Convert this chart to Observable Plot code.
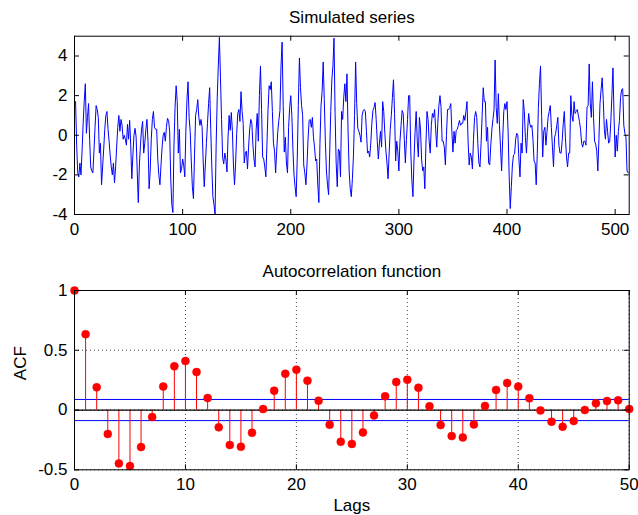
<!DOCTYPE html>
<html><head><meta charset="utf-8">
<script src="https://cdn.jsdelivr.net/npm/d3@7"></script>
<script src="https://cdn.jsdelivr.net/npm/@observablehq/plot@0.6"></script>
<style>
html,body{margin:0;padding:0;background:#fff;}
#chart{width:638px;height:515px;overflow:hidden;background:#fff;}
#chart svg{display:block;}
</style></head><body><div id="chart"></div>
<script>
// Simulated series (samples 1..512)
const series = [
1.7,-0.5,-1.9,-2.1,-1.4,-2.0,-0.8,0.6,1.7,2.6,
0.1,0.9,1.6,-0.2,-1.6,-1.8,-1.9,-0.8,0.4,1.5,
1.3,0.9,-0.9,-0.4,-2.5,-1.6,-0.7,0.3,1.0,1.2,
0.3,-0.3,-1.0,-1.6,-2.0,-1.4,-2.4,-1.6,-0.6,0.4,
1.0,0.2,0.8,0.5,-0.2,0.0,-0.2,-0.5,0.55,-0.2,
0.75,-0.5,-2.2,-1.0,0.0,0.35,-0.1,-1.8,-3.4,-1.5,
-0.5,0.3,0.7,-0.9,-0.4,0.3,0.8,-0.3,-2.7,-1.8,
-0.2,0.8,1.2,0.4,0.3,0.3,-1.2,-2.0,-2.5,-1.5,
-0.6,0.0,0.15,-0.3,0.4,0.85,0.75,0.2,-2.2,-3.5,
-3.9,-0.5,1.4,2.5,1.7,-0.9,0.3,-1.9,-1.7,-1.2,
-1.5,-2.1,0.2,1.8,2.7,0.9,0.2,-1.3,-2.6,-3.2,
-1.0,1.0,1.3,1.8,0.9,0.5,0.8,0.4,-1.3,-2.6,
-1.5,-0.4,0.6,1.6,2.4,0.3,-1.6,-3.1,-3.5,-3.98,
-0.5,1.9,3.5,4.95,2.9,0.8,-1.1,-1.45,-0.9,-1.2,
-1.85,-0.1,1.0,0.25,1.15,0.25,-1.5,-2.5,-1.4,0.1,
1.1,1.3,0.7,2.2,1.2,0.6,-1.4,-0.9,-0.8,-1.7,
-0.6,0.3,0.8,0.6,-0.5,-1.2,-1.6,0.3,1.1,-0.3,
2.0,3.5,1.3,-1.1,-1.2,-1.6,-2.1,-0.4,1.3,2.5,
2.3,2.7,1.2,-0.4,-0.8,-1.9,-0.8,0.2,0.75,1.25,
3.5,4.7,1.5,-0.85,-0.1,-1.4,-1.9,0.4,1.4,2.0,
1.0,-0.7,-2.0,-2.6,-3.1,-1.2,1.5,3.9,2.4,1.5,
1.0,-1.5,-1.9,-2.5,-1.5,-0.2,0.75,0.8,0.4,0.9,
-0.1,-0.6,-1.3,-1.2,-2.5,-3.4,-0.4,1.5,2.2,3.7,
1.8,-0.3,-1.8,-2.5,-3.0,-0.9,1.2,2.8,3.5,4.9,
1.1,-1.4,-2.6,-0.7,-0.8,-2.1,1.2,0.8,1.9,2.6,
1.7,3.1,0.2,-1.8,-2.7,-3.1,-2.2,-1.0,1.0,3.7,
1.6,0.35,0.2,0.0,-0.35,1.0,1.25,1.3,1.2,0.2,
-0.9,-0.8,-1.1,-0.4,0.6,1.25,1.4,1.65,0.8,-0.3,
-1.2,-0.4,0.2,-0.6,1.7,1.2,0.1,-0.8,-1.4,-2.2,
-0.9,0.3,1.0,1.9,2.8,1.1,-1.3,-0.3,-0.8,-1.8,
-0.3,0.5,1.25,1.1,-0.2,-1.4,-0.2,0.8,2.0,2.0,
-0.8,-2.3,-3.1,-1.2,0.2,1.2,-0.3,-1.1,0.9,0.3,
-1.2,-1.8,-1.6,-2.7,-0.5,1.2,0.8,-0.3,-0.9,0.5,
1.1,0.9,1.3,0.3,-0.6,0.6,1.5,2.0,1.4,-0.3,
-0.3,-0.6,-1.5,0.0,1.3,1.3,1.4,1.6,0.2,-0.85,
0.2,-0.4,0.25,0.3,0.5,0.75,0.5,0.6,0.6,1.0,
0.75,1.2,1.7,-0.3,-1.5,-0.9,-1.1,-1.7,-0.2,0.9,
1.2,0.9,-0.4,-1.4,-1.6,-0.4,1.0,2.4,1.7,1.7,
-0.3,0.4,-1.4,-1.5,-0.5,0.3,0.8,1.3,3.8,1.4,
0.6,2.1,0.5,-0.6,-1.8,-0.2,1.2,1.6,1.3,1.7,
0.2,-2.1,-3.7,-2.6,-1.5,-1.0,-0.95,-0.2,0.1,0.0,
-1.2,-2.1,-0.4,-0.9,1.8,1.2,-0.1,-0.9,0.2,1.1,
0.6,0.4,0.5,-0.2,-1.3,-1.4,-2.5,-0.9,1.4,2.6,
3.5,1.0,-1.1,0.2,0.4,-0.5,0.2,0.9,1.2,1.5,
0.4,-0.6,-1.6,-0.1,0.1,0.5,0.9,-0.5,-0.9,-0.9,
-0.3,0.6,1.2,-0.1,-1.1,-1.6,-0.9,-0.9,2.0,1.0,
0.7,1.7,1.1,1.2,1.3,1.0,0.7,0.3,-0.4,-0.6,
-0.3,-0.3,-0.5,1.4,1.5,3.6,1.6,0.9,2.7,0.9,
-0.3,-0.45,-0.8,-1.8,-0.2,1.6,2.3,2.9,1.8,0.3,
-0.2,0.8,0.2,-0.4,-0.3,0.7,2.0,3.4,0.9,-1.1,
0.0,-0.8,0.2,0.75,1.9,2.3,2.35,0.5,0.1,-0.1,
-1.8,-1.9
];

// Autocorrelation values for lags 0..50
const acfLags = [0,1,2,3,4,5,6,7,8,9,10,11,12,13,14,15,16,17,18,19,20,21,22,23,24,25,26,27,28,29,30,31,32,33,34,35,36,37,38,39,40,41,42,43,44,45,46,47,48,49,50];
const acfValues = [
1.0,0.634,0.19,-0.20,-0.447,-0.469,-0.31,-0.059,0.196,0.366,
0.41,0.318,0.10,-0.145,-0.293,-0.307,-0.19,0.008,0.162,0.304,
0.338,0.246,0.078,-0.123,-0.265,-0.284,-0.187,-0.045,0.115,0.235,
0.254,0.187,0.031,-0.126,-0.218,-0.229,-0.12,0.034,0.168,0.226,
0.196,0.098,-0.003,-0.098,-0.14,-0.092,0.0,0.056,0.075,0.081,
0.008
];
const confBounds = [0.0884, -0.0884];

const seriesXTicks = [0,100,200,300,400,500];
const seriesYTicks = [-4,-2,0,2,4];
const acfXTicks = [0,10,20,30,40,50];
const acfYTicks = [-0.5,0,0.5,1];

const topTitle = "Simulated series";
const bottomTitle = "Autocorrelation function";
const xLabel = "Lags";
const yLabel = "ACF";

const FONT = "'Liberation Sans', Arial, Helvetica, sans-serif";
const FS = 17;
const W = 638;
const fmt = d => String(d);

function frameTicks(xt, yt, innerW, innerH) {
  const L = 5;
  return [
    Plot.tickX(xt, {x: d => d, insetTop: innerH - L, stroke: "#000"}),
    Plot.tickX(xt, {x: d => d, insetBottom: innerH - L, stroke: "#000"}),
    Plot.tickY(yt, {y: d => d, insetRight: innerW - L, stroke: "#000"}),
    Plot.tickY(yt, {y: d => d, insetLeft: innerW - L, stroke: "#000"})
  ];
}

// ---- top: simulated series
const m1 = {top: 35.7, right: 9.3, bottom: 44, left: 74};
const H1 = 258;
const iw1 = W - m1.left - m1.right, ih1 = H1 - m1.top - m1.bottom;
const seriesData = series.map((v, i) => ({t: i + 1, v}));
const plotTop = Plot.plot({
  width: W, height: H1,
  marginTop: m1.top, marginRight: m1.right, marginBottom: m1.bottom, marginLeft: m1.left,
  style: {fontFamily: FONT, fontSize: FS + "px", color: "#000", background: "#fff", overflow: "visible"},
  x: {domain: [0, 513], axis: null},
  y: {domain: [-4, 5], axis: null},
  marks: [
    Plot.line(seriesData, {x: "t", y: "v", stroke: "#0000ff", strokeWidth: 1}),
    Plot.frame({stroke: "#000", strokeWidth: 1}),
    ...frameTicks(seriesXTicks, seriesYTicks, iw1, ih1),
    Plot.axisX({ticks: seriesXTicks, tickSize: 0, tickPadding: 8, tickFormat: fmt, fontSize: FS, label: null}),
    Plot.axisY({ticks: seriesYTicks, tickSize: 0, tickPadding: 7, tickFormat: fmt, fontSize: FS, label: null}),
    Plot.text([topTitle], {text: d => d, frameAnchor: "top", dy: -19, fontSize: FS, lineAnchor: "middle"})
  ]
});

// ---- bottom: ACF
const m2 = {top: 32, right: 9.3, bottom: 45.7, left: 74};
const H2 = 257;
const iw2 = W - m2.left - m2.right, ih2 = H2 - m2.top - m2.bottom;
const acfData = acfLags.map((lag, i) => ({lag, acf: acfValues[i]}));
const plotBottom = Plot.plot({
  width: W, height: H2,
  marginTop: m2.top, marginRight: m2.right, marginBottom: m2.bottom, marginLeft: m2.left,
  style: {fontFamily: FONT, fontSize: FS + "px", color: "#000", background: "#fff", overflow: "visible"},
  x: {domain: [0, 50], axis: null},
  y: {domain: [-0.5, 1], axis: null},
  marks: [
    Plot.gridX(acfXTicks, {stroke: "#333", strokeOpacity: 0.9, strokeDasharray: "1,3", strokeWidth: 1}),
    Plot.gridY(acfYTicks, {stroke: "#333", strokeOpacity: 0.9, strokeDasharray: "1,3", strokeWidth: 1}),
    Plot.ruleY(confBounds, {y: d => d, stroke: "#0000ff", strokeWidth: 1}),
    Plot.ruleX(acfData, {x: "lag", y1: 0, y2: "acf", stroke: "#ff0000", strokeWidth: 1}),
    Plot.ruleY([0], {y: d => d, stroke: "#000", strokeWidth: 1.3}),
    Plot.dot(acfData, {x: "lag", y: "acf", r: 4, fill: "#ff0000", stroke: "#ff0000", strokeWidth: 0.5}),
    Plot.frame({stroke: "#000", strokeWidth: 1}),
    ...frameTicks(acfXTicks, acfYTicks, iw2, ih2),
    Plot.axisX({ticks: acfXTicks, tickSize: 0, tickPadding: 8, tickFormat: fmt, fontSize: FS, label: null}),
    Plot.axisY({ticks: acfYTicks, tickSize: 0, tickPadding: 7, tickFormat: fmt, fontSize: FS, label: null}),
    Plot.text([bottomTitle], {text: d => d, frameAnchor: "top", dy: -19, fontSize: FS, lineAnchor: "middle"}),
    Plot.text([xLabel], {text: d => d, frameAnchor: "bottom", dy: 36, fontSize: FS, lineAnchor: "middle"}),
    Plot.text([yLabel], {text: d => d, frameAnchor: "left", dx: -54, rotate: -90, fontSize: FS, lineAnchor: "middle"})
  ]
});

const root = document.getElementById("chart");
root.appendChild(plotTop);
root.appendChild(plotBottom);
</script>
</body></html>
